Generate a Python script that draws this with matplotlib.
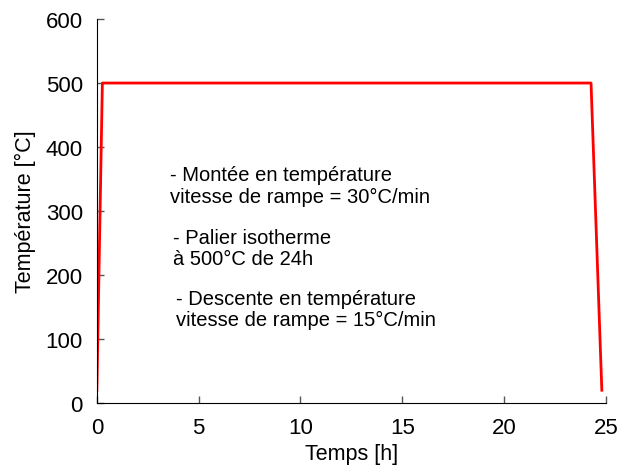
import matplotlib
matplotlib.use("Agg")
import matplotlib.pyplot as plt

plt.rcParams['font.family'] = ['Liberation Sans', 'DejaVu Sans']

# Cycle thermique : montée, palier, descente
temps = [0, 0.27, 24.27, 24.8]
temperature = [20, 500, 500, 20]

x_ticks = [0, 5, 10, 15, 20, 25]
y_ticks = [0, 100, 200, 300, 400, 500, 600]

notes = [
    (3.6, 340, "- Montée en température\nvitesse de rampe = 30°C/min"),
    (3.75, 242, "- Palier isotherme\nà 500°C de 24h"),
    (3.9, 147, "- Descente en température\nvitesse de rampe = 15°C/min"),
]

fig = plt.figure(figsize=(6.17, 4.77), dpi=100)
ax = fig.add_axes([0.157, 0.153, 0.825, 0.805])
ax.plot(temps, temperature, color='#ff0000', linewidth=2)

ax.set_xlim(0, 25)
ax.set_ylim(0, 600)
ax.set_xticks(x_ticks)
ax.set_yticks(y_ticks)
ax.tick_params(direction='in', length=5, width=1, color='#555555', labelsize=16, pad=10)
ax.spines['top'].set_visible(False)
ax.spines['right'].set_visible(False)
ax.set_xlabel("Temps [h]", fontsize=15.5, labelpad=4)
ax.set_ylabel("Température [°C]", fontsize=15.5, labelpad=7)

for x, y, txt in notes:
    ax.text(x, y, txt, fontsize=14.5, va='center', ha='left', linespacing=1.15)

fig.savefig("out.png", dpi=100)
